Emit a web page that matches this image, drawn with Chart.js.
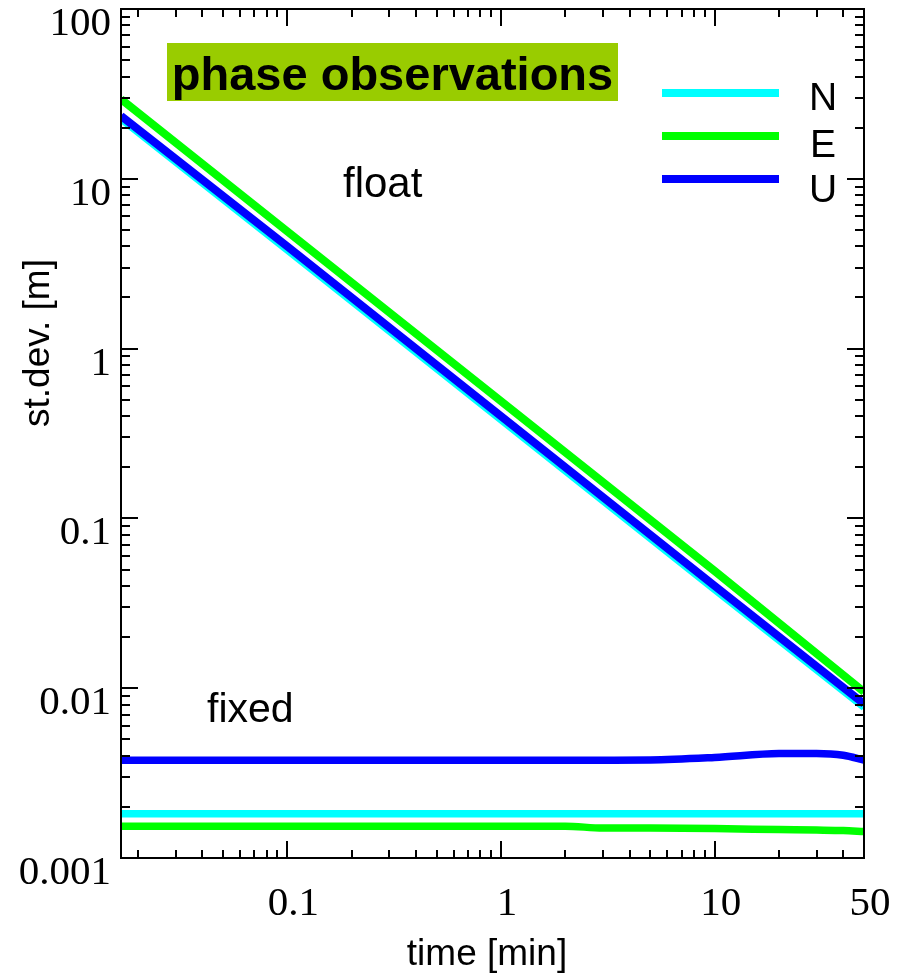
<!DOCTYPE html>
<html>
<head>
<meta charset="utf-8">
<script src="https://cdn.jsdelivr.net/npm/chart.js@4.4.1/dist/chart.umd.min.js"></script>
<style>
  html, body { margin: 0; padding: 0; background: #ffffff; }
  #wrap { width: 898px; height: 975px; }
</style>
</head>
<body>
<div id="wrap"><canvas id="c" width="898" height="975"></canvas></div>
<script>
// ---- data ----
const seriesNames = ['N', 'E', 'U'];
const seriesColors = ['#00ffff', '#00ff00', '#0000ff'];

// float solution (time in minutes, st.dev. in metres)
const floatTimes = [1/60, 0.1, 1, 10, 50];
const floatN = [22.5, 3.8, 0.38, 0.038, 0.0077];
const floatE = [29.5, 4.9, 0.49, 0.049, 0.0095];
const floatU = [23.5, 4.0, 0.40, 0.040, 0.0081];

// fixed solution
const fixedTimes = [1/60, 0.1, 1, 2, 3, 5, 10, 20, 30, 40, 50];
const fixedN = [0.00182, 0.00182, 0.00182, 0.00182, 0.00182, 0.00182, 0.00182, 0.00182, 0.00182, 0.00182, 0.00182];
const fixedE = [0.00154, 0.00154, 0.00154, 0.00154, 0.00150, 0.00150, 0.00149, 0.00147, 0.00146, 0.00145, 0.00143];
const fixedU = [0.00377, 0.00377, 0.00377, 0.00377, 0.00377, 0.00378, 0.00391, 0.00412, 0.00413, 0.00403, 0.00377];

// axes
const xMin = 1/60, xMax = 50;
const yMin = 0.001, yMax = 100;
const xTickValues = [0.1, 1, 10, 50];
const xTickLabels = ['0.1', '1', '10', '50'];
const yTickValues = [0.001, 0.01, 0.1, 1, 10, 100];
const yTickLabels = ['0.001', '0.01', '0.1', '1', '10', '100'];

const titleText = 'phase observations';
const xTitle = 'time [min]';
const yTitle = 'st.dev. [m]';
const floatLabel = 'float';
const fixedLabel = 'fixed';

// ---- build datasets ----
function pts(times, vals) { return times.map((t, i) => ({ x: t, y: vals[i] })); }
const floatSets = [floatN, floatE, floatU];
const fixedSets = [fixedN, fixedE, fixedU];
const datasets = [];
[0, 1, 2].forEach(i => {
  datasets.push({
    label: seriesNames[i] + ' float', data: pts(floatTimes, floatSets[i]),
    borderColor: seriesColors[i], borderWidth: i === 0 ? 7 : 8, tension: 0,
    pointRadius: 0, clip: 0, order: 3 - i
  });
  datasets.push({
    label: seriesNames[i] + ' fixed', data: pts(fixedTimes, fixedSets[i]),
    borderColor: seriesColors[i], borderWidth: 7.5, cubicInterpolationMode: 'monotone',
    pointRadius: 0, clip: 0, order: 3 - i
  });
});

const SANS = '"Liberation Sans", Arial, sans-serif';
const SERIF = '"Liberation Serif", "Times New Roman", serif';

const deco = {
  id: 'deco',
  afterDatasetsDraw(chart) {
    const { ctx, chartArea: a, scales: { x, y } } = chart;
    ctx.save();
    ctx.strokeStyle = '#000';
    ctx.lineWidth = 2;
    ctx.lineCap = 'butt';
    ctx.beginPath();
    // x ticks (bottom & top, inward)
    for (let k = -2; k <= 1; k++) {
      for (let m = 1; m <= 9; m++) {
        const v = m * Math.pow(10, k);
        if (v < xMin * 0.999 || v > xMax * 1.001) continue;
        const px = Math.round(x.getPixelForValue(v));
        const len = m === 1 ? 17 : 8;
        ctx.moveTo(px, a.bottom); ctx.lineTo(px, a.bottom - len);
        ctx.moveTo(px, a.top); ctx.lineTo(px, a.top + len);
      }
    }
    // y ticks (left & right, inward)
    for (let k = -3; k <= 2; k++) {
      for (let m = 1; m <= 9; m++) {
        const v = m * Math.pow(10, k);
        if (v < yMin * 0.999 || v > yMax * 1.001) continue;
        const py = Math.round(y.getPixelForValue(v));
        const len = m === 1 ? 17 : 9;
        ctx.moveTo(a.left, py); ctx.lineTo(a.left + len, py);
        ctx.moveTo(a.right, py); ctx.lineTo(a.right - len, py);
      }
    }
    ctx.stroke();
    ctx.strokeRect(a.left, a.top, a.right - a.left, a.bottom - a.top);
    ctx.restore();
  },
  afterDraw(chart) {
    const { ctx, chartArea: a, scales: { x, y } } = chart;
    ctx.save();
    ctx.fillStyle = '#000';
    // tick labels
    ctx.font = '41px ' + SERIF;
    ctx.textBaseline = 'alphabetic';
    ctx.textAlign = 'right';
    yTickValues.forEach((v, i) => {
      ctx.fillText(yTickLabels[i], a.left - 10, y.getPixelForValue(v) + 26);
    });
    ctx.textAlign = 'center';
    xTickValues.forEach((v, i) => {
      ctx.fillText(xTickLabels[i], x.getPixelForValue(v) + 6, a.bottom + 57);
    });
    // axis titles
    ctx.font = '37px ' + SANS;
    ctx.textAlign = 'center';
    ctx.fillText(xTitle, 487, 965);
    ctx.save();
    ctx.translate(49, 343);
    ctx.rotate(-Math.PI / 2);
    ctx.fillText(yTitle, 0, 0);
    ctx.restore();
    // title box
    ctx.fillStyle = '#99cc00';
    ctx.fillRect(167, 43, 451, 58);
    ctx.fillStyle = '#000';
    ctx.font = 'bold 47px ' + SANS;
    ctx.textAlign = 'center';
    ctx.fillText(titleText, 392.5, 90);
    // annotations
    ctx.textAlign = 'left';
    ctx.font = '42px ' + SANS;
    ctx.fillText(floatLabel, 343, 197);
    ctx.font = '41px ' + SANS;
    ctx.fillText(fixedLabel, 207, 722);
    // legend
    const legY = [93, 136, 179];
    const legTextY = [110, 157, 202];
    ctx.lineWidth = 8;
    seriesNames.forEach((n, i) => {
      ctx.strokeStyle = seriesColors[i];
      ctx.beginPath();
      ctx.moveTo(662, legY[i]);
      ctx.lineTo(779, legY[i]);
      ctx.stroke();
      ctx.font = '39px ' + SANS;
      ctx.textAlign = 'center';
      ctx.fillStyle = '#000';
      ctx.fillText(n, 823, legTextY[i]);
    });
    ctx.restore();
  }
};

new Chart(document.getElementById('c'), {
  type: 'line',
  data: { datasets },
  options: {
    responsive: false,
    animation: false,
    devicePixelRatio: 1,
    layout: { padding: { left: 121, right: 34, top: 9, bottom: 117 } },
    plugins: { legend: { display: false }, tooltip: { enabled: false }, title: { display: false } },
    elements: { line: { borderCapStyle: 'butt', borderJoinStyle: 'round' } },
    scales: {
      x: { type: 'logarithmic', min: xMin, max: xMax, display: false },
      y: { type: 'logarithmic', min: yMin, max: yMax, display: false }
    }
  },
  plugins: [deco]
});
</script>
</body>
</html>
